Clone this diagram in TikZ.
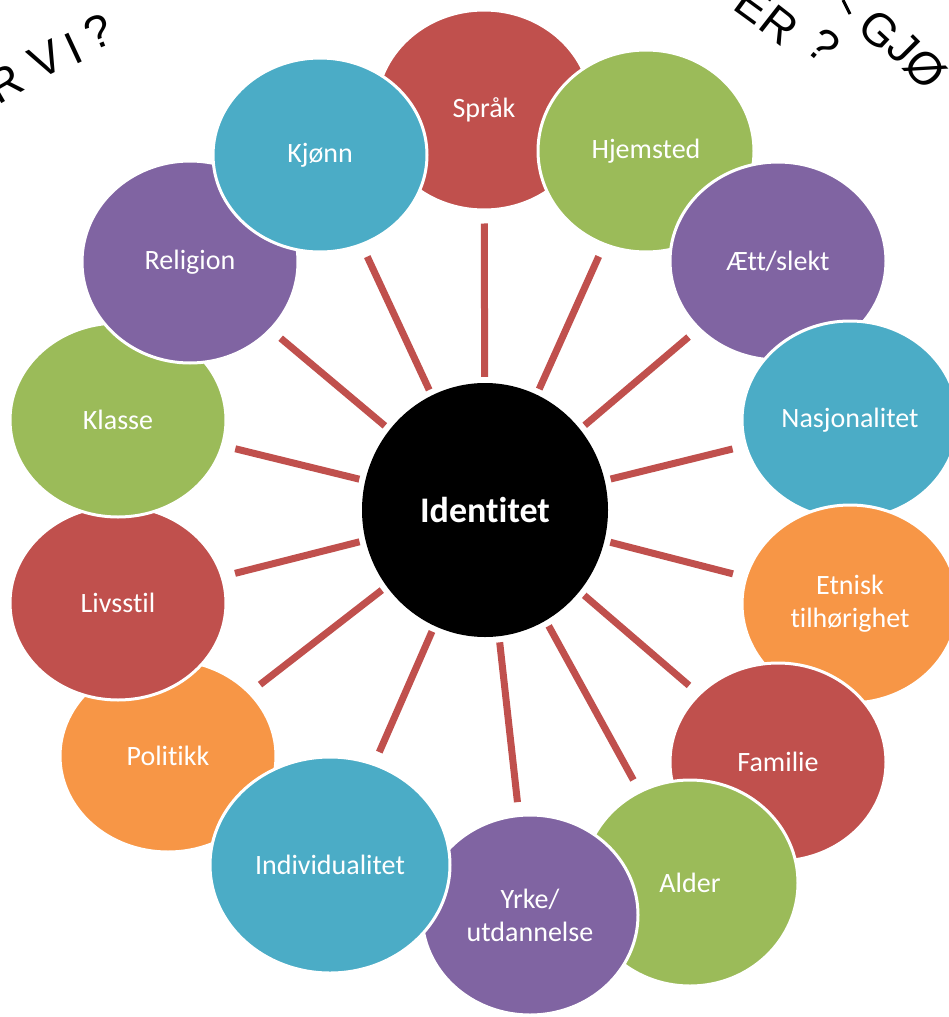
\documentclass[tikz,border=0pt]{standalone}
\usepackage{fontspec}
\newfontfamily\carl[RawFeature=-liga]{Carlito}
\newfontfamily\arialf{Liberation Sans}
\usetikzlibrary{shapes.geometric}
\pgfdeclarelayer{bg}
\pgfsetlayers{bg,main}
\definecolor{cred}{HTML}{C0504D}
\definecolor{cgreen}{HTML}{9BBB59}
\definecolor{cpurple}{HTML}{8064A2}
\definecolor{cblue}{HTML}{4BACC6}
\definecolor{corange}{HTML}{F79646}
\definecolor{cspoke}{HTML}{C0504D}
\begin{document}
\begin{tikzpicture}[x=1pt,y=-1pt,
  bub/.style={ellipse, draw=white, line width=3pt, inner sep=0pt, minimum width=216pt, minimum height=198pt, text=white, font=\carl\fontsize{28}{33}\selectfont, align=center},
  spoke/.style={draw=cspoke, line width=7pt, shorten <=6pt, shorten >=12pt},
  arcl/.style={font=\arialf\fontsize{46}{48}\selectfont, anchor=base, inner sep=0pt, text=black}]
\useasboundingbox (0,0) rectangle (949,1017);
\clip (0,0) rectangle (949,1017);

\node[bub, fill=cred, minimum height=200pt] (sprak) at (484,110) {Språk};
\node[bub, fill=corange, minimum height=192pt] (politikk) at (168,756) {Politikk};
\node[bub, fill=cgreen, minimum height=202pt] (hjemsted) at (646,151) {Hjemsted};
\node[bub, fill=cpurple] (aett) at (778,261) {Ætt/slekt};
\node[bub, fill=cblue] (nasj) at (850,420) {Nasjonalitet};
\node[bub, fill=corange] (etnisk) at (850,604) {Etnisk\\tilhørighet};
\node[bub, fill=cred] (familie) at (778,762) {Familie};
\node[bub, fill=cgreen, minimum height=206pt] (alder) at (690,883) {Alder};
\node[bub, fill=cpurple, minimum height=200pt] (yrke) at (530,915) {Yrke/\\utdannelse};
\node[bub, fill=cred, minimum height=194pt] (livsstil) at (118,603) {Livsstil};
\node[bub, fill=cgreen, minimum height=194pt] (klasse) at (118,420) {Klasse};
\node[bub, fill=cpurple, minimum height=202pt] (religion) at (190,262) {Religion};
\node[bub, fill=cblue, minimum height=194pt, minimum width=214pt] (kjonn) at (320,155) {Kjønn};
\node[bub, fill=cblue, minimum width=240pt, minimum height=216pt] (indiv) at (330,865) {Individualitet};
\node[ellipse, fill=black, inner sep=0pt, minimum width=246pt, minimum height=254pt, text=white, font=\carl\bfseries\fontsize{36}{40}\selectfont] (id) at (485,510) {Identitet};

\begin{pgfonlayer}{bg}
\foreach \n in {sprak,politikk,hjemsted,aett,nasj,etnisk,familie,alder,yrke,livsstil,klasse,religion,kjonn,indiv}
  \draw[spoke] (id) -- (\n);
\end{pgfonlayer}

% curved captions (cut off by the picture edge)
\node[arcl, rotate=30] (tl1) at (13,97) {R};
\node[arcl, rotate=27] (tl2) at (53,74) {V};
\node[arcl, rotate=25] (tl3) at (80,63) {I};
\node[arcl, rotate=22] (tl4) at (104,47) {?};

\node[arcl, rotate=-36] (tr1) at (744,18) {E};
\node[arcl, rotate=-38] (tr2) at (770,38) {R};
\node[arcl, rotate=-40] (tr3) at (813,58) {?};
\draw[line width=3pt] (843,0) -- (850,14);
\node[arcl, rotate=-43] (tr4) at (869,42) {G};
\node[arcl, rotate=-45] (tr5) at (893,59) {J};
\node[arcl, rotate=-47] (tr6) at (914,80) {Ø};
\end{tikzpicture}
\end{document}
